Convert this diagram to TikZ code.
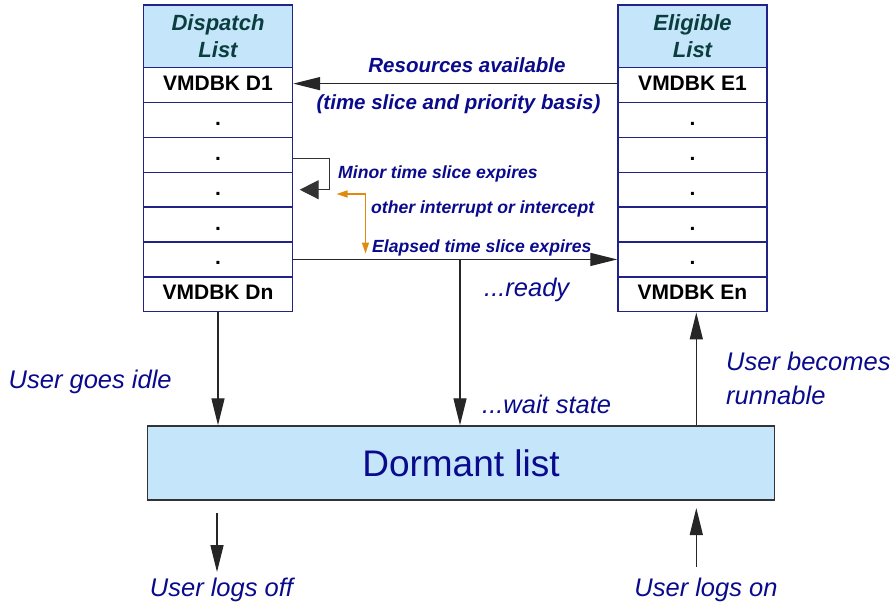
\documentclass[tikz,border=0pt]{standalone}
\usepackage{fontspec}
\setmainfont{Liberation Sans}
\usetikzlibrary{arrows.meta,calc}
\definecolor{navy}{HTML}{0A0A8C}
\definecolor{boxblue}{HTML}{C5E6FA}
\definecolor{headtxt}{HTML}{0A3D3D}
\definecolor{edge}{HTML}{222288}
\definecolor{orng}{HTML}{E08A10}
\tikzset{
  cellD/.style={draw=edge, line width=1.4pt, fill=white, minimum width=149pt, minimum height=34.86pt,
    inner sep=0pt, text height=15pt, text depth=4pt, font=\fontsize{21}{24}\selectfont\bfseries},
  headD/.style={draw=edge, line width=1.4pt, fill=boxblue, minimum width=149pt, minimum height=62.7pt,
    inner sep=0pt, align=center, text=headtxt, font=\fontsize{22}{27}\selectfont\bfseries\itshape},
  arr/.style={draw=black!85, line width=1.3pt, -{Triangle[length=27pt,width=13pt]}},
  minorarr/.style={draw=black!80, line width=1.3pt, -{Triangle[length=19pt,width=19pt]}},
  oarr/.style={draw=orng, line width=1.3pt, {Triangle[length=11pt,width=7pt]}-{Triangle[length=11pt,width=7pt]}},
  smlab/.style={text=navy, font=\fontsize{17.6}{20}\selectfont\bfseries\itshape, inner sep=0pt},
  midlab/.style={text=navy, font=\fontsize{20.5}{23}\selectfont\bfseries\itshape, inner sep=0pt},
  biglab/.style={text=navy, font=\fontsize{25.5}{28}\selectfont\itshape, inner sep=0pt},
}
\begin{document}
\begin{tikzpicture}[x=1pt,y=-1pt]
\useasboundingbox (0,0) rectangle (894,607);
% Dispatch list
\node[headD] (dh) at (218,36.35) {\raisebox{1.5pt}{Dispatch}\\\raisebox{1.5pt}{List}};
\node[cellD] (d1) at (218,85.13) {VMDBK D1};
\node[cellD] (d2) at (218,119.99) {.};
\node[cellD] (d3) at (218,154.85) {.};
\node[cellD] (d4) at (218,189.71) {.};
\node[cellD] (d5) at (218,224.57) {.};
\node[cellD] (d6) at (218,259.43) {.};
\node[cellD] (dn) at (218,294.29) {VMDBK Dn};
% Eligible list
\node[headD] (eh) at (692.5,36.35) {\raisebox{-1.3pt}{Eligible}\\\raisebox{-1.3pt}{List}};
\node[cellD] (e1) at (692.5,85.13) {VMDBK E1};
\node[cellD] (e2) at (692.5,119.99) {.};
\node[cellD] (e3) at (692.5,154.85) {.};
\node[cellD] (e4) at (692.5,189.71) {.};
\node[cellD] (e5) at (692.5,224.57) {.};
\node[cellD] (e6) at (692.5,259.43) {.};
\node[cellD] (en) at (692.5,294.29) {VMDBK En};
% Dormant list
\node[draw=black!80, line width=1.3pt, fill=boxblue, minimum width=627pt, minimum height=74pt, inner sep=0pt,
  text=navy, font=\fontsize{37}{40}\selectfont] (dorm) at (461,462.9) {Dormant list};
% Resources arrow
\draw[arr] ([yshift=1.5pt]e1.west) -- ([yshift=1.5pt]d1.east);
\node[midlab] (ra) at (467,65) {Resources available};
\node[midlab] (tb) at (458.5,104) {(time slice and priority basis)};
% Minor loop
\draw[minorarr] ([yshift=-3.3pt]d3.east) -- ++(36.5,0) |- ([xshift=6.5pt]d4.east);
\node[smlab, anchor=west] (mt) at (338,173.5) {Minor time slice expires};
% Orange
\coordinate (o1) at (336.5,194);
\coordinate (o2) at (365.5,253.5);
\draw[oarr] (o1) -| (o2);
\node[smlab, anchor=west] (oi) at (371,209) {other interrupt or intercept};
\node[smlab, anchor=west] (el) at (372,247.5) {Elapsed time slice expires};
% Elapsed arrow
\draw[arr] (d6.east) -- (e6.west);
\coordinate (j) at (460,259.43);
\draw[arr] (j) -- (j |- dorm.north);
\node[biglab, anchor=west] (rd) at (484,290) {...ready};
\node[biglab, anchor=west] (ws) at (482,404) {...wait state};
% Dn down
\draw[arr] (dn.south) -- (dn.south |- dorm.north);
\node[biglab, anchor=west] (gi) at (8.5,382) {User goes idle};
% En up
\draw[arr] ([xshift=3.8pt]en.south |- dorm.north) -- ([xshift=3.8pt]en.south);
\node[biglab, anchor=west] (ub) at (726,361) {User becomes};
\node[biglab, anchor=west] (ru) at (726,395) {runnable};
% logs off / on
\coordinate (f1) at (217,513);
\coordinate (f2) at (217,572);
\draw[arr] (f1) -- (f2);
\node[biglab] (lo) at (221.5,590) {User logs off};
\coordinate (g1) at (696.3,567);
\coordinate (g2) at (696.3,508);
\draw[arr] (g1) -- (g2);
\node[biglab] (ln) at (706,590) {User logs on};
\end{tikzpicture}
\end{document}
